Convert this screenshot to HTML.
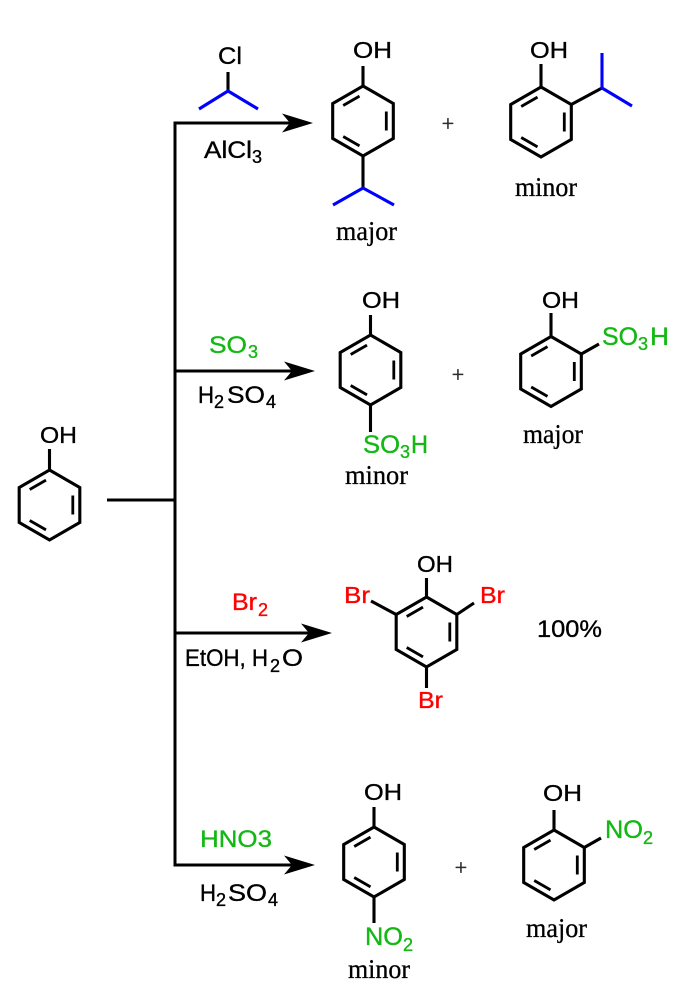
<!DOCTYPE html>
<html><head><meta charset="utf-8"><style>
html,body{margin:0;padding:0;background:#fff;}
svg{display:block;}
text{font-family:"Liberation Sans",Arial,sans-serif;stroke:#000;stroke-width:0.35;}
.s{font-family:"Liberation Serif","Times New Roman",serif;stroke-width:0.3;}
.g{fill:#14b814;stroke:#14b814;}
.r{fill:#ff0000;stroke:#ff0000;}
</style></head><body>
<svg width="678" height="1003" viewBox="0 0 678 1003" xmlns="http://www.w3.org/2000/svg">
<defs>
<g id="ring">
<path d="M0,-35 L30.31,-17.5 L30.31,17.5 L0,35 L-30.31,17.5 L-30.31,-17.5 Z" fill="none" stroke="#000" stroke-width="3.1" stroke-linejoin="miter"/>
<path d="M-19.8,-15.5 L-3.5,-24.9 M23.3,-9.5 L23.3,9.5 M-3.5,24.9 L-19.8,15.5" fill="none" stroke="#000" stroke-width="2.8"/>
</g>
</defs>

<!-- connectors -->
<path d="M291,123 L175,123 L175,865 L293,865" fill="none" stroke="#000" stroke-width="3" stroke-linejoin="miter"/>
<path d="M175,371 L293,371 M175,633 L310,633 M107,500 L175,500" fill="none" stroke="#000" stroke-width="3"/>
<polygon points="313,123 282,113.5 290,123 282,132.5" fill="#000"/>
<polygon points="315,371 284,361.5 292,371 284,380.5" fill="#000"/>
<polygon points="332,633 301,623.5 309,633 301,642.5" fill="#000"/>
<polygon points="315,865 284,855.5 292,865 284,874.5" fill="#000"/>

<!-- phenol start -->
<use href="#ring" x="49.5" y="505"/>
<path d="M49.5,449 L49.5,470" stroke="#000" stroke-width="3.1"/>
<text x="40" y="443" font-size="23.5" textLength="37" lengthAdjust="spacingAndGlyphs">OH</text>

<!-- Row 1 -->
<path d="M228,72 L228,91" stroke="#000" stroke-width="3.1"/>
<path d="M199,109 L228,91 L258,109" fill="none" stroke="#0000ff" stroke-width="3.1"/>
<text x="218" y="64" font-size="24" textLength="24" lengthAdjust="spacingAndGlyphs">Cl</text>
<text x="204" y="158" font-size="24" textLength="48" lengthAdjust="spacingAndGlyphs">AlCl</text>
<text x="252" y="163" font-size="18">3</text>

<use href="#ring" x="363" y="121"/>
<path d="M363,66 L363,86 M363,156 L363,188" stroke="#000" stroke-width="3.1"/>
<path d="M333,205 L363,188 L394,205" fill="none" stroke="#0000ff" stroke-width="3.1"/>
<text x="353" y="58" font-size="23.5" textLength="39" lengthAdjust="spacingAndGlyphs">OH</text>
<text class="s" x="336" y="240" font-size="27" textLength="61" lengthAdjust="spacingAndGlyphs">major</text>

<text class="s" x="448" y="131" font-size="22" text-anchor="middle" fill="#333" stroke="#333">+</text>

<use href="#ring" x="541" y="122"/>
<path d="M541,64 L541,87 M571.3,104.5 L602,88" stroke="#000" stroke-width="3.1"/>
<path d="M602,53 L602,88 L632,106" fill="none" stroke="#0000ff" stroke-width="3.1"/>
<text x="530" y="58" font-size="23.5" textLength="38" lengthAdjust="spacingAndGlyphs">OH</text>
<text class="s" x="515" y="196" font-size="27" textLength="62" lengthAdjust="spacingAndGlyphs">minor</text>

<!-- Row 2 -->
<text class="g" x="209" y="353" font-size="24" textLength="38" lengthAdjust="spacingAndGlyphs">SO</text>
<text class="g" x="248" y="358" font-size="18">3</text>
<text x="198" y="403" font-size="24" textLength="16" lengthAdjust="spacingAndGlyphs">H</text>
<text x="214" y="408" font-size="18">2</text>
<text x="227" y="403" font-size="24" textLength="38" lengthAdjust="spacingAndGlyphs">SO</text>
<text x="266" y="408" font-size="18">4</text>

<use href="#ring" x="370.5" y="370"/>
<path d="M370.5,315 L370.5,335 M370.5,405 L370.5,432" stroke="#000" stroke-width="3.1"/>
<text x="362" y="308" font-size="23.5" textLength="38" lengthAdjust="spacingAndGlyphs">OH</text>
<text class="g" x="363" y="453" font-size="25" textLength="37" lengthAdjust="spacingAndGlyphs">SO</text>
<text class="g" x="400" y="458" font-size="18">3</text>
<text class="g" x="411" y="453" font-size="25" textLength="17" lengthAdjust="spacingAndGlyphs">H</text>
<text class="s" x="345" y="484" font-size="27" textLength="63" lengthAdjust="spacingAndGlyphs">minor</text>

<text class="s" x="458" y="382" font-size="22" text-anchor="middle" fill="#333" stroke="#333">+</text>

<use href="#ring" x="551" y="371.5"/>
<path d="M551,313 L551,336.5 M581.3,354 L599,344" stroke="#000" stroke-width="3.1"/>
<text x="542" y="308" font-size="23.5" textLength="37" lengthAdjust="spacingAndGlyphs">OH</text>
<text class="g" x="602" y="345" font-size="25" textLength="36" lengthAdjust="spacingAndGlyphs">SO</text>
<text class="g" x="638" y="350" font-size="18">3</text>
<text class="g" x="650" y="345" font-size="25" textLength="19" lengthAdjust="spacingAndGlyphs">H</text>
<text class="s" x="523" y="443" font-size="27" textLength="60" lengthAdjust="spacingAndGlyphs">major</text>

<!-- Row 3 -->
<text class="r" x="232" y="610" font-size="24" textLength="25" lengthAdjust="spacingAndGlyphs">Br</text>
<text class="r" x="258" y="616" font-size="18">2</text>
<text x="185" y="666" font-size="24" textLength="83" lengthAdjust="spacingAndGlyphs">EtOH, H</text>
<text x="270" y="672" font-size="18">2</text>
<text x="282" y="666" font-size="24" textLength="21" lengthAdjust="spacingAndGlyphs">O</text>

<use href="#ring" x="426.5" y="632"/>
<path d="M426.5,578 L426.5,597 M396.2,614.5 L371,601 M456.8,614.5 L474,603 M426.5,667 L426.5,688" stroke="#000" stroke-width="3.1"/>
<text x="417" y="572" font-size="23.5" textLength="36" lengthAdjust="spacingAndGlyphs">OH</text>
<text class="r" x="344" y="603" font-size="23" textLength="26" lengthAdjust="spacingAndGlyphs">Br</text>
<text class="r" x="480" y="603" font-size="23" textLength="25" lengthAdjust="spacingAndGlyphs">Br</text>
<text class="r" x="418" y="708" font-size="23" textLength="25" lengthAdjust="spacingAndGlyphs">Br</text>
<text x="537" y="637" font-size="24" textLength="65" lengthAdjust="spacingAndGlyphs">100%</text>

<!-- Row 4 -->
<text class="g" x="200" y="847" font-size="24" textLength="72" lengthAdjust="spacingAndGlyphs">HNO3</text>
<text x="200" y="901" font-size="24" textLength="16" lengthAdjust="spacingAndGlyphs">H</text>
<text x="216" y="906" font-size="18">2</text>
<text x="228" y="901" font-size="24" textLength="39" lengthAdjust="spacingAndGlyphs">SO</text>
<text x="268" y="906" font-size="18">4</text>

<use href="#ring" x="374" y="862"/>
<path d="M374,807 L374,827 M374,897 L374,923" stroke="#000" stroke-width="3.1"/>
<text x="364" y="800" font-size="23.5" textLength="38" lengthAdjust="spacingAndGlyphs">OH</text>
<text class="g" x="365" y="945" font-size="25" textLength="38" lengthAdjust="spacingAndGlyphs">NO</text>
<text class="g" x="403" y="951" font-size="18">2</text>
<text class="s" x="348" y="978" font-size="27" textLength="62" lengthAdjust="spacingAndGlyphs">minor</text>

<text class="s" x="461" y="875" font-size="22" text-anchor="middle" fill="#333" stroke="#333">+</text>

<use href="#ring" x="554" y="865"/>
<path d="M554,810 L554,830 M584.3,847.5 L601,838" stroke="#000" stroke-width="3.1"/>
<text x="543" y="801" font-size="23.5" textLength="39" lengthAdjust="spacingAndGlyphs">OH</text>
<text class="g" x="605" y="838" font-size="25" textLength="38" lengthAdjust="spacingAndGlyphs">NO</text>
<text class="g" x="643" y="844" font-size="18">2</text>
<text class="s" x="526" y="937" font-size="27" textLength="61" lengthAdjust="spacingAndGlyphs">major</text>
</svg>
</body></html>
